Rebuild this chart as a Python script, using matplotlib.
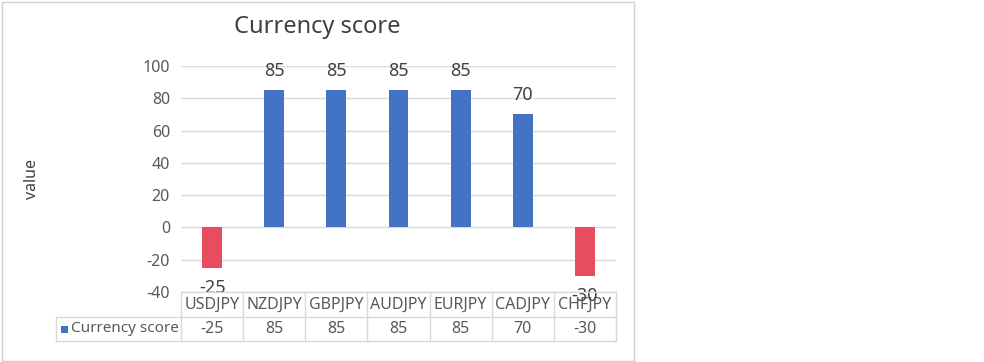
import matplotlib
matplotlib.use("Agg")
import matplotlib.pyplot as plt
from matplotlib.transforms import blended_transform_factory
from matplotlib.patches import Rectangle
from matplotlib.lines import Line2D

categories = ["USDJPY", "NZDJPY", "GBPJPY", "AUDJPY", "EURJPY", "CADJPY", "CHFJPY"]
values = [-25, 85, 85, 85, 85, 70, -30]
series_name = "Currency score"
title = "Currency score"
ylabel = "value"
yticks = [-40, -20, 0, 20, 40, 60, 80, 100]

BLUE = "#4472C4"
RED = "#E84C5F"
TXT = "#595959"
GRID = "#D9D9D9"

plt.rcParams['font.family'] = ['Noto Sans', 'DejaVu Sans']

W, H = 984, 362
fig = plt.figure(figsize=(W / 100, H / 100), dpi=100)

# outer chart border
fig.patches.append(Rectangle((1.5 / W, 1 - 360.5 / H), 632.5 / W, 359 / H,
                             transform=fig.transFigure, fill=False,
                             edgecolor="#D0D0D0", linewidth=1.0))

x0, x1, yt, yb = 181, 616, 66, 292
ax = fig.add_axes([x0 / W, 1 - yb / H, (x1 - x0) / W, (yb - yt) / H])
n = len(categories)
xs = list(range(n))
colors = [BLUE if v >= 0 else RED for v in values]
ax.bar(xs, values, width=0.32, color=colors, zorder=3)
ax.set_xlim(-0.5, n - 0.5)
ax.set_ylim(-40, 100)
ax.set_yticks(yticks)
ax.set_yticklabels([str(t) for t in yticks], fontsize=11.5, color=TXT)
ax.tick_params(axis='y', length=0, pad=8)
ax.set_xticks([])
for s in ax.spines.values():
    s.set_visible(False)
ax.grid(axis='y', color=GRID, linewidth=1.0, zorder=0)

for x, v in zip(xs, values):
    off = 14 if v >= 0 else -14.5
    ax.annotate(str(v), (x, v), xytext=(0, off), textcoords="offset points",
                ha='center', va='center', fontsize=13, color="#404040", zorder=4)

fig.text(317 / W, 1 - 27 / H, title, ha='center', va='center', fontsize=17, color="#404040")
fig.text(32 / W, 1 - 179 / H, ylabel, ha='center', va='center', rotation=90,
         fontsize=11.5, color="#404040")

# data table
bt = blended_transform_factory(ax.transData, fig.transFigure)
ft = fig.transFigure
r0, r1, r2 = 292, 317, 341
def fy(p):
    return 1 - p / H
lc = "#D9D9D9"
fig.add_artist(Line2D([x0 / W, x1 / W], [fy(r0), fy(r0)], transform=ft, color=lc, lw=1))
fig.add_artist(Line2D([55.5 / W, x1 / W], [fy(r1), fy(r1)], transform=ft, color=lc, lw=1))
fig.add_artist(Line2D([55.5 / W, x1 / W], [fy(r2), fy(r2)], transform=ft, color=lc, lw=1))
for i in range(n + 1):
    xv = i - 0.5
    fig.add_artist(Line2D([xv, xv], [fy(r0), fy(r2)], transform=bt, color=lc, lw=1))
fig.add_artist(Line2D([55.5 / W, 55.5 / W], [fy(r1), fy(r2)], transform=ft, color=lc, lw=1))
for x, c, v in zip(xs, categories, values):
    fig.text(x, fy((r0 + r1) / 2), c, transform=bt, ha='center', va='center',
             fontsize=11.5, color=TXT)
    fig.text(x, fy((r1 + r2) / 2), str(v), transform=bt, ha='center', va='center',
             fontsize=11.5, color=TXT)
fig.patches.append(Rectangle((61 / W, fy(333)), 7 / W, 7 / H, transform=ft,
                             facecolor=BLUE, edgecolor='none'))
fig.text(71 / W, fy((r1 + r2) / 2), series_name, ha='left', va='center',
         fontsize=11, color=TXT)

fig.savefig("out.png", dpi=100)
